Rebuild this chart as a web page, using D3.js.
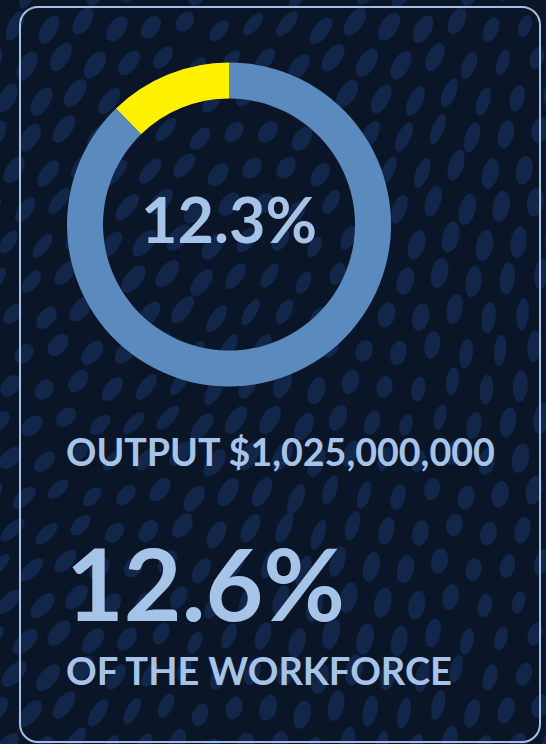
<!DOCTYPE html>
<html><head><meta charset="utf-8">
<script src="https://cdn.jsdelivr.net/npm/d3@7"></script>
<style>html,body{margin:0;padding:0;background:#0a1528;}svg{display:block;}</style>
</head><body>
<svg id="c" width="546" height="744"></svg>
<script>
// Data
const sliceLabels = ["Share", "Rest"];
const sliceValues = [12.3, 87.7];
const centerLabel = "12.3%";
const outputLabel = "OUTPUT $1,025,000,000";
const workforceValue = "12.6%";
const workforceLabel = "OF THE WORKFORCE";

const W = 546, H = 744;
const svg = d3.select("#c");
const bg = "#0b1528", dotCol = "#12264a", txt = "#a6c4e7";
const colors = d3.scaleOrdinal().domain(sliceLabels).range(["#fff200", "#5b8bbe"]);

svg.append("rect").attr("width", W).attr("height", H).attr("fill", bg);

// decorative texture (deterministic)
const dots = svg.append("g");
for (let r = 0; r < 22; r++) {
  for (let c = 0; c < 17; c++) {
    const x = c * 34 + (r % 2) * 17 - 6 + 4 * Math.sin(r * 1.7);
    const y = r * 36 - 10 + 5 * Math.sin(c * 2.3);
    const ang = 22 + 18 * Math.sin(x / 160 + y / 300) + (y > 400 ? 8 : 0);
    const rx = 6 + 2.5 * Math.abs(Math.sin((x + y) / 90));
    const ry = 11 + 5 * Math.abs(Math.cos(x / 110 - y / 200));
    dots.append("ellipse").attr("cx", x).attr("cy", y).attr("rx", rx).attr("ry", ry)
      .attr("transform", `rotate(${ang},${x},${y})`).attr("fill", dotCol);
  }
}

// card border
svg.append("rect").attr("x", 20).attr("y", 7).attr("width", 520).attr("height", 735)
  .attr("rx", 18).attr("fill", "none").attr("stroke", "#a3c0e4").attr("stroke-width", 2);

// donut
const cx = 229, cy = 224.5, R = 162, r0 = 126;
const pie = d3.pie().sort(null).value(d => d.v).startAngle(0).endAngle(-2 * Math.PI);
const arc = d3.arc().innerRadius(r0).outerRadius(R);
const data = sliceLabels.map((k, i) => ({ k, v: sliceValues[i] }));
svg.append("g").attr("transform", `translate(${cx},${cy})`)
  .selectAll("path").data(pie(data)).join("path")
  .attr("d", arc).attr("fill", d => colors(d.data.k));

const font = "Lato, 'Open Sans', sans-serif";
function fit(sel, targetW) {
  const w = sel.node().getBBox().width;
  const fs = parseFloat(sel.attr("font-size"));
  sel.attr("font-size", fs * targetW / w);
}

const t1 = svg.append("text").attr("x", cx).attr("y", 243).attr("text-anchor", "middle")
  .attr("font-family", font).attr("font-weight", 700).attr("font-size", 64)
  .attr("fill", txt).text(centerLabel);
fit(t1, 176);

const t2 = svg.append("text").attr("x", 66).attr("y", 466)
  .attr("font-family", font).attr("font-weight", 700).attr("font-size", 34)
  .attr("fill", txt).text(outputLabel);
fit(t2, 429);

const t3 = svg.append("text").attr("x", 66).attr("y", 621)
  .attr("font-family", font).attr("font-weight", 700).attr("font-size", 100)
  .attr("fill", txt).text(workforceValue);
fit(t3, 279);

const t4 = svg.append("text").attr("x", 66).attr("y", 685)
  .attr("font-family", font).attr("font-weight", 700).attr("font-size", 36)
  .attr("fill", txt).text(workforceLabel);
fit(t4, 386);
</script>
</body></html>
